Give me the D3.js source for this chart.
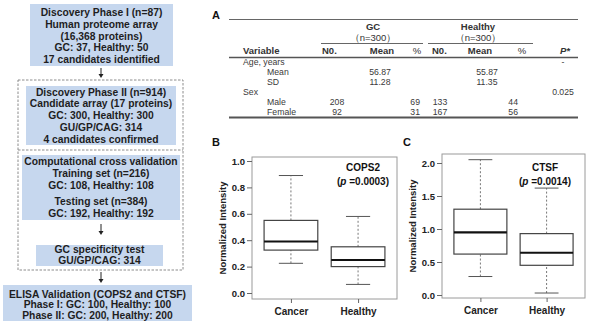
<!DOCTYPE html>
<html>
<head>
<meta charset="utf-8">
<script src="https://cdn.jsdelivr.net/npm/d3@7"></script>
<style>
  body { margin: 0; background: #fff; }
  svg { display: block; font-family: Arial, "Liberation Sans", sans-serif; }
</style>
</head>
<body>
<svg id="fig" width="600" height="332"></svg>
<script>
// ---- Data ----
// flowchart text, one array per box
const phase1Lines = ["Discovery Phase I (n=87)", "Human proteome array", "(16,368 proteins)", "GC: 37, Healthy: 50", "17 candidates identified"]
const phase2Lines = ["Discovery Phase II (n=914)", "Candidate array (17 proteins)", "GC: 300, Healthy: 300", "GU/GP/CAG: 314", "4 candidates confirmed"]
const crossLines = ["Computational cross validation", "Training set (n=216)", "GC: 108, Healthy: 108", "Testing set (n=384)", "GC: 192, Healthy: 192"]
const specLines = ["GC specificity test", "GU/GP/CAG: 314"]
const elisaLines = ["ELISA Validation (COPS2 and CTSF)", "Phase I: GC: 100, Healthy: 100", "Phase II: GC: 200, Healthy: 200"]

// table A
const tableHeaders = ["Variable", "N0.", "Mean", "%", "N0.", "Mean", "%", "P*"]
const tableGroups = ["GC", "Healthy"]
const tableGroupN = ["（n=300）", "（n=300）"]
const tableRows = [
  ["Age, years", "", "", "", "", "", "", "-"],
  ["Mean", "", "56.87", "", "", "55.87", "", ""],
  ["SD", "", "11.28", "", "", "11.35", "", ""],
  ["Sex", "", "", "", "", "", "", "0.025"],
  ["Male", "208", "", "69", "133", "", "44", ""],
  ["Female", "92", "", "31", "167", "", "56", ""]
]
const rowIndent = [false, true, true, false, true, true]

// boxplots
const groups = ["Cancer", "Healthy"]
const cops2Low = [0.225, 0.065]
const cops2Q1 = [0.325, 0.20]
const cops2Median = [0.39, 0.25]
const cops2Q3 = [0.55, 0.35]
const cops2High = [0.89, 0.58]
const cops2Ticks = [0.0, 0.2, 0.4, 0.6, 0.8, 1.0]

const ctsfLow = [0.28, 0.03]
const ctsfQ1 = [0.62, 0.45]
const ctsfMedian = [0.95, 0.64]
const ctsfQ3 = [1.30, 0.93]
const ctsfHigh = [2.05, 1.62]
const ctsfTicks = [0.0, 0.5, 1.0, 1.5, 2.0]

const svg = d3.select("#fig")
const textColor = "#1e1e1e"

// ---- Flowchart ----
function drawBox(x, y, w, h, lines, ys) {
  svg.append("rect")
    .attr("x", x).attr("y", y).attr("width", w).attr("height", h)
    .attr("fill", "#c6d7ee")
  svg.append("g").selectAll("text")
    .data(lines)
    .enter().append("text")
      .attr("x", x + w / 2)
      .attr("y", (d, i) => ys[i])
      .attr("text-anchor", "middle")
      .attr("dominant-baseline", "middle")
      .attr("font-size", "10.3px")
      .attr("font-weight", "bold")
      .attr("fill", textColor)
      .text(d => d)
}

function drawArrow(x, y1, y2) {
  svg.append("line")
    .attr("x1", x).attr("x2", x).attr("y1", y1).attr("y2", y2 - 3)
    .attr("stroke", "#222").attr("stroke-width", 1)
  svg.append("path")
    .attr("d", `M${x - 2.5},${y2 - 4} L${x + 2.5},${y2 - 4} L${x},${y2} Z`)
    .attr("fill", "#222")
}

// dashed container
svg.append("rect")
  .attr("x", 18).attr("y", 80).attr("width", 165).attr("height", 190)
  .attr("fill", "none").attr("stroke", "#8c8c8c").attr("stroke-dasharray", "2.5,1.5")
svg.append("line")
  .attr("x1", 18).attr("x2", 183).attr("y1", 150).attr("y2", 150)
  .attr("stroke", "#8c8c8c").attr("stroke-dasharray", "2.5,1.5")

drawBox(30, 4, 143, 62, phase1Lines, [13.5, 25.2, 36.9, 48.6, 60.3])
drawBox(26, 86, 150, 59, phase2Lines, [93, 104.7, 116.4, 128.1, 139.8])
drawBox(22, 155, 158, 65, crossLines, [162, 174, 186, 202, 214])
drawBox(36, 245, 127, 21, specLines, [250.5, 261])
drawBox(3, 285, 189, 36, elisaLines, [295, 305.5, 316])

drawArrow(101, 68, 78)
drawArrow(101, 224, 235)
drawArrow(101, 272, 283)

// ---- Table A ----
svg.append("text").attr("x", 212).attr("y", 19)
  .attr("font-size", "11px").attr("font-weight", "bold").attr("fill", "#111").text("A")

const colX = [243, 322, 382, 417, 432, 480, 522, 565]
const colAnchor = ["start", "start", "middle", "middle", "start", "middle", "middle", "middle"]

svg.append("line").attr("x1", 229).attr("x2", 578).attr("y1", 19.5).attr("y2", 19.5)
  .attr("stroke", "#666").attr("stroke-width", 1)

const groupCx = [373, 478]
const groupLine = [[321, 423], [428, 533]]
tableGroups.forEach((g, i) => {
  svg.append("text").attr("x", groupCx[i]).attr("y", 30)
    .attr("text-anchor", "middle").attr("font-size", "9.5px").attr("font-weight", "bold")
    .attr("fill", "#333").text(g)
  svg.append("text").attr("x", groupCx[i]).attr("y", 41)
    .attr("text-anchor", "middle").attr("font-size", "9.5px")
    .attr("fill", "#333").text(tableGroupN[i])
  svg.append("line").attr("x1", groupLine[i][0]).attr("x2", groupLine[i][1])
    .attr("y1", 43.5).attr("y2", 43.5).attr("stroke", "#666")
})

svg.append("g").selectAll("text")
  .data(tableHeaders)
  .enter().append("text")
    .attr("x", (d, i) => colX[i])
    .attr("y", 54)
    .attr("text-anchor", (d, i) => colAnchor[i])
    .attr("font-size", "9.5px")
    .attr("font-weight", (d, i) => (i === 3 || i === 6) ? "normal" : "bold")
    .attr("font-style", (d, i) => i === 7 ? "italic" : "normal")
    .attr("fill", "#333")
    .text(d => d)

svg.append("line").attr("x1", 229).attr("x2", 578).attr("y1", 57.5).attr("y2", 57.5)
  .attr("stroke", "#555").attr("stroke-width", 1.5)

const numX = [243, 337, 380, 420, 440, 487, 518, 563]
const numAnchor = ["start", "middle", "middle", "end", "middle", "middle", "end", "middle"]
const rowY = [64.5, 74.5, 84.5, 94.5, 104.5, 114.5]
tableRows.forEach((row, r) => {
  svg.append("g").selectAll("text")
    .data(row)
    .enter().append("text")
      .attr("x", (d, i) => i === 0 && rowIndent[r] ? 267 : numX[i])
      .attr("y", rowY[r])
      .attr("text-anchor", (d, i) => numAnchor[i])
      .attr("font-size", "8.7px")
      .attr("fill", "#3a3a3a")
      .text(d => d)
})

svg.append("line").attr("x1", 229).attr("x2", 578).attr("y1", 117.5).attr("y2", 117.5)
  .attr("stroke", "#555").attr("stroke-width", 2)

// ---- Boxplots ----
function drawBoxplot(opt) {
  const g = svg.append("g")
  const x = d3.scaleLinear().domain([0.42, 2.58]).range([opt.left, opt.right])
  const y = d3.scaleLinear().domain(opt.yDomain).range(opt.yRange)

  g.append("text").attr("x", opt.labelX).attr("y", 146)
    .attr("font-size", "11px").attr("font-weight", "bold").attr("fill", "#111").text(opt.label)

  const stats = groups.map((name, i) => ({
    name: name, pos: i + 1,
    low: opt.low[i], q1: opt.q1[i], med: opt.median[i], q3: opt.q3[i], high: opt.high[i]
  }))

  // whiskers
  g.selectAll(".wl").data(stats).enter().append("line")
    .attr("x1", d => x(d.pos)).attr("x2", d => x(d.pos))
    .attr("y1", d => y(d.q3)).attr("y2", d => y(d.high))
    .attr("stroke", "#777").attr("stroke-dasharray", "2,2")
  g.selectAll(".wl2").data(stats).enter().append("line")
    .attr("x1", d => x(d.pos)).attr("x2", d => x(d.pos))
    .attr("y1", d => y(d.low)).attr("y2", d => y(d.q1))
    .attr("stroke", "#777").attr("stroke-dasharray", "2,2")
  // staples
  ;["high", "low"].forEach(k => {
    g.selectAll(".st" + k).data(stats).enter().append("line")
      .attr("x1", d => x(d.pos - 0.18)).attr("x2", d => x(d.pos + 0.18))
      .attr("y1", d => y(d[k])).attr("y2", d => y(d[k]))
      .attr("stroke", "#555").attr("stroke-width", 1)
  })
  // boxes
  g.selectAll(".bx").data(stats).enter().append("rect")
    .attr("x", d => x(d.pos - 0.4))
    .attr("width", d => x(d.pos + 0.4) - x(d.pos - 0.4))
    .attr("y", d => y(d.q3))
    .attr("height", d => y(d.q1) - y(d.q3))
    .attr("fill", "#fff").attr("stroke", "#444").attr("stroke-width", 1.2)
  // medians
  g.selectAll(".md").data(stats).enter().append("line")
    .attr("x1", d => x(d.pos - 0.4)).attr("x2", d => x(d.pos + 0.4))
    .attr("y1", d => y(d.med)).attr("y2", d => y(d.med))
    .attr("stroke", "#111").attr("stroke-width", 2.2)

  // frame
  g.append("rect")
    .attr("x", opt.left).attr("y", opt.top)
    .attr("width", opt.right - opt.left).attr("height", opt.bottom - opt.top)
    .attr("fill", "none").attr("stroke", "#9a9a9a")

  // y axis
  const ya = g.append("g")
    .attr("transform", `translate(${opt.left},0)`)
    .call(d3.axisLeft(y).tickValues(opt.ticks).tickFormat(d3.format(".1f")).tickSize(5).tickPadding(2))
  ya.select(".domain").remove()
  ya.selectAll("line").attr("stroke", "#666")
  ya.selectAll("text").attr("font-size", "9.5px").attr("font-weight", "bold")
    .attr("fill", "#222").attr("font-family", "Arial, 'Liberation Sans', sans-serif")

  // x axis
  const xa = g.append("g")
    .attr("transform", `translate(0,${opt.bottom})`)
    .call(d3.axisBottom(x).tickValues([1, 2]).tickFormat(d => groups[d - 1]).tickSize(4).tickPadding(5))
  xa.select(".domain").remove()
  xa.selectAll("line").attr("stroke", "#666")
  xa.selectAll("text").attr("font-size", "10px").attr("font-weight", "bold")
    .attr("fill", "#222").attr("font-family", "Arial, 'Liberation Sans', sans-serif")

  // y label
  g.append("text")
    .attr("transform", `translate(${opt.ylabX},${(opt.top + opt.bottom) / 2}) rotate(-90)`)
    .attr("text-anchor", "middle")
    .attr("font-size", "9.5px").attr("font-weight", "bold").attr("fill", "#222")
    .text("Normalized Intensity")

  // annotation
  g.append("text").attr("x", opt.annX).attr("y", 171)
    .attr("text-anchor", "middle").attr("font-size", "10px").attr("font-weight", "bold")
    .attr("fill", "#111").text(opt.name)
  const p = g.append("text").attr("x", opt.annX).attr("y", 185)
    .attr("text-anchor", "middle").attr("font-size", "10px").attr("font-weight", "bold")
    .attr("fill", "#111")
  p.append("tspan").text("(")
  p.append("tspan").attr("font-style", "italic").text("p")
  p.append("tspan").text(" =" + opt.pval + ")")
}

drawBoxplot({
  label: "B", labelX: 212, name: "COPS2", pval: "0.0003",
  left: 252, right: 397, top: 157, bottom: 299,
  yDomain: [0, 1], yRange: [293, 161], ticks: cops2Ticks,
  low: cops2Low, q1: cops2Q1, median: cops2Median, q3: cops2Q3, high: cops2High,
  ylabX: 226, annX: 363
})

drawBoxplot({
  label: "C", labelX: 403, name: "CTSF", pval: "0.0014",
  left: 442, right: 585, top: 154, bottom: 298,
  yDomain: [0, 2], yRange: [295, 163], ticks: ctsfTicks,
  low: ctsfLow, q1: ctsfQ1, median: ctsfMedian, q3: ctsfQ3, high: ctsfHigh,
  ylabX: 416, annX: 545
})
</script>
</body>
</html>
